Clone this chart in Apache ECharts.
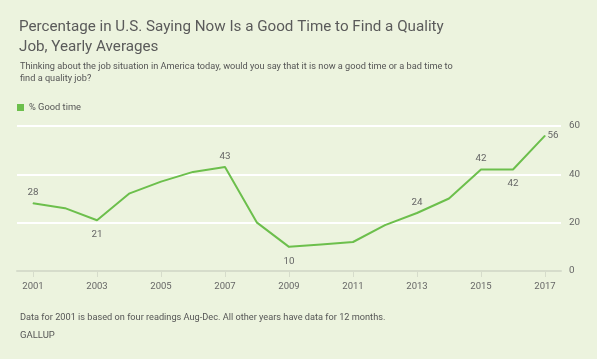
<!DOCTYPE html>
<html><head><meta charset="utf-8">
<script src="https://cdn.jsdelivr.net/npm/echarts@6/dist/echarts.min.js"></script>
<style>html,body{margin:0;padding:0;background:#ecf3de;}#c{width:597px;height:359px;}</style>
</head><body><div id="c"></div>
<script>
const years = ['2001','2002','2003','2004','2005','2006','2007','2008','2009','2010','2011','2012','2013','2014','2015','2016','2017'];
const goodTime = [28,26,21,32,37,41,43,20,10,11,12,19,24,30,42,42,56];
const yTicks = [0,20,40,60];
const labelPos = {'2001':'top','2003':'bottom','2007':'top','2009':'bottom','2013':'top','2015':'top','2016':'bottom','2017':'right'};

const FONT = '"Roboto", sans-serif';
const chart = echarts.init(document.getElementById('c'), null, {renderer:'canvas'});
const dist = {top:5, bottom:9, right:2};
const data = goodTime.map((v,i)=>{
  const pos = labelPos[years[i]];
  return pos ? {value:v, label:{show:true, position:pos, distance:dist[pos]}} : {value:v};
});
chart.setOption({
  backgroundColor:'#ecf3de',
  animation:false,
  title:[
    {text:'Percentage in U.S. Saying Now Is a Good Time to Find a Quality\nJob, Yearly Averages', left:14, top:12,
     textStyle:{fontFamily:FONT, fontSize:15.2, fontWeight:'normal', color:'#5a5a5a', lineHeight:20}},
    {text:'Thinking about the job situation in America today, would you say that it is now a good time or a bad time to\nfind a quality job?', left:15, top:56,
     textStyle:{fontFamily:FONT, fontSize:9.2, fontWeight:'normal', color:'#555', lineHeight:12}},
    {text:'Data for 2001 is based on four readings Aug-Dec. All other years have data for 12 months.', left:15, top:308,
     textStyle:{fontFamily:FONT, fontSize:9.2, fontWeight:'normal', color:'#555'}},
    {text:'GALLUP', left:15, top:326,
     textStyle:{fontFamily:FONT, fontSize:9.5, fontWeight:'normal', color:'#555', letterSpacing:1}}
  ],
  legend:{left:12, top:98, itemWidth:7, itemHeight:7, icon:'rect', itemGap:5,
    textStyle:{fontFamily:FONT, fontSize:9.3, color:'#555'}, data:['% Good time']},
  grid:{left:17, right:36, top:126, bottom:88},
  xAxis:{type:'category', data:years, boundaryGap:true,
    axisLine:{show:true, lineStyle:{color:'#d6dccb', width:2}},
    axisTick:{show:true, alignWithLabel:true, interval:1, length:6, lineStyle:{color:'#d6dccb'}},
    axisLabel:{interval:1, fontFamily:FONT, fontSize:9.5, color:'#666', margin:11},
    splitLine:{show:false}},
  yAxis:{type:'value', min:0, max:60, interval:20, position:'right',
    axisLine:{show:false}, axisTick:{show:false},
    axisLabel:{fontFamily:FONT, fontSize:9.8, color:'#666', margin:8},
    splitLine:{lineStyle:{color:'#ffffff', width:2}}},
  series:[{name:'% Good time', type:'line', data:data, symbol:'circle', symbolSize:1, showSymbol:true,
    lineStyle:{color:'#6cbf4c', width:2}, itemStyle:{color:'#6cbf4c'},
    label:{fontFamily:FONT, fontSize:9.8, color:'#666'},
    z:3}]
});
</script></body></html>
